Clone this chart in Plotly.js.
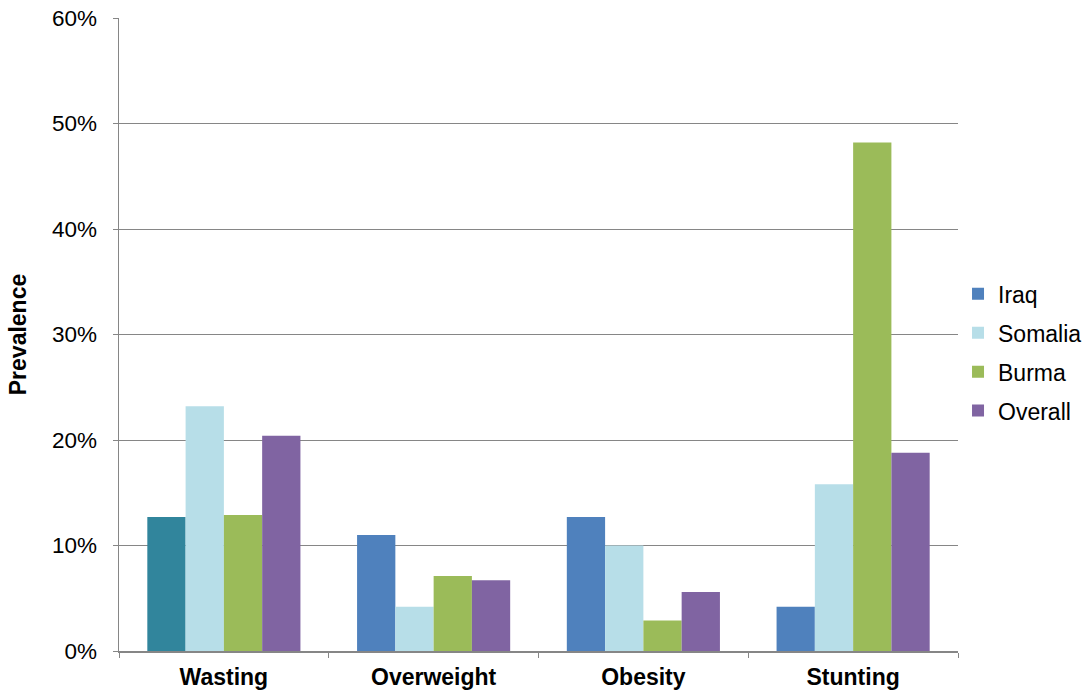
<!DOCTYPE html>
<html>
<head>
<meta charset="utf-8">
<script src="https://cdn.plot.ly/plotly-3.0.1.min.js"></script>
<style>html,body{margin:0;padding:0;background:#fff;}#chart{width:1083px;height:691px;}</style>
</head>
<body>
<div id="chart"></div>
<script>
var categories = ['Wasting', 'Overweight', 'Obesity', 'Stunting'];
var seriesNames = ['Iraq', 'Somalia', 'Burma', 'Overall'];
var iraq = [0.127, 0.110, 0.127, 0.042];
var somalia = [0.232, 0.042, 0.100, 0.158];
var burma = [0.129, 0.071, 0.029, 0.482];
var overall = [0.204, 0.067, 0.056, 0.188];
var yTicks = [0, 0.1, 0.2, 0.3, 0.4, 0.5, 0.6];

var colors = ['#4F81BD', '#B7DEE8', '#9BBB59', '#8064A2'];
var iraqWastingColor = '#31859C';

var font = "'Liberation Sans', Arial, sans-serif";

// Iraq: first point ordered as Overweight so legend swatch picks the standard blue
var iraqOrder = [1, 2, 3, 0];
var traces = [];
traces.push({
  type: 'bar', name: seriesNames[0], legendgroup: 'g0',
  x: iraqOrder.map(function(i){return categories[i];}),
  y: iraqOrder.map(function(i){return iraq[i];}),
  marker: {color: iraqOrder.map(function(i){return i === 0 ? iraqWastingColor : colors[0];})}
});
[somalia, burma, overall].forEach(function(vals, k){
  traces.push({
    type: 'bar', name: seriesNames[k+1], legendgroup: 'g' + (k+1),
    x: categories, y: vals,
    marker: {color: colors[k+1]}
  });
});

var layout = {
  width: 1083, height: 691,
  margin: {l: 119, r: 125, t: 18, b: 40},
  paper_bgcolor: '#ffffff', plot_bgcolor: '#ffffff',
  barmode: 'group', bargap: 0.27, bargroupgap: 0,
  font: {family: font, size: 23, color: '#000000'},
  showlegend: true,
  legend: {
    xref: 'container', yref: 'container',
    x: 0.8846, xanchor: 'left', y: 0.49, yanchor: 'middle',
    font: {family: font, size: 23, color: '#000000'},
    tracegroupgap: 6, traceorder: 'grouped',
    bgcolor: 'rgba(0,0,0,0)', borderwidth: 0
  },
  xaxis: {
    type: 'category', categoryorder: 'array', categoryarray: categories,
    tickson: 'boundaries', ticks: 'outside', ticklen: 5, tickcolor: '#868686',
    showline: true, linecolor: '#868686', linewidth: 1.5,
    showgrid: false, zeroline: false,
    tickfont: {family: font, size: 23, color: '#000000', weight: 'bold'},
    ticklabelstandoff: 5,
    automargin: false, fixedrange: true
  },
  yaxis: {
    range: [0, 0.6], tickvals: yTicks, tickformat: '.0%',
    ticks: 'outside', ticklen: 5, tickcolor: '#868686',
    showline: true, linecolor: '#868686', linewidth: 1.5,
    showgrid: true, gridcolor: '#868686', gridwidth: 1,
    zeroline: false,
    tickfont: {family: font, size: 22.5, color: '#000000'},
    ticklabelstandoff: 11,
    title: {text: 'Prevalence', font: {family: font, size: 23, color: '#000000', weight: 'bold'}, standoff: 19},
    automargin: false, fixedrange: true
  }
};

Plotly.newPlot('chart', traces, layout, {staticPlot: true, displayModeBar: false});
</script>
</body>
</html>
